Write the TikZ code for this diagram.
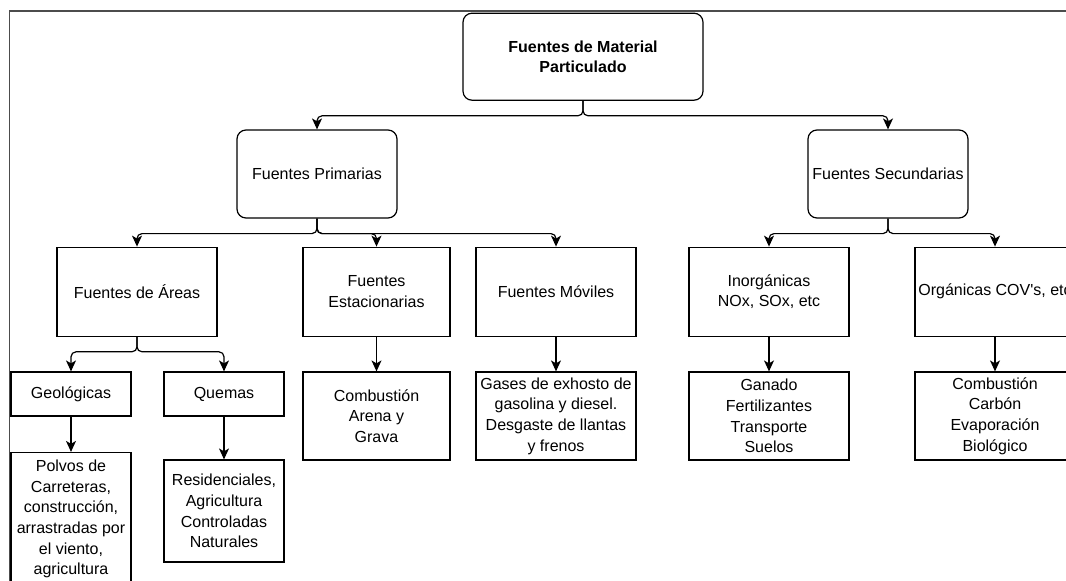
\documentclass[tikz,border=0pt]{standalone}
\usepackage{fontspec}
\setmainfont{Liberation Sans}
\usetikzlibrary{arrows.meta}

\tikzset{
  letra/.style={font=\fontsize{16pt}{20.7pt}\selectfont},
  caja/.style={draw, line width=1.2pt, inner sep=0pt, align=center, letra},
  redonda/.style={caja, rounded corners=9pt},
  punta/.style={-{Stealth[length=11pt,width=10pt,inset=3pt]}},
  codo/.style={draw, line width=1.2pt, rounded corners=5pt, punta,
    to path={(\tikztostart.south) -- ++(0,15) -| (\tikztotarget.north)}},
  recta/.style={draw, line width=1.2pt, punta,
    to path={(\tikztostart.south) -- (\tikztotarget.north)}}
}

\begin{document}
\begin{tikzpicture}[x=1pt, y=-1pt]

        \useasboundingbox (0,0) rectangle (1066,581);
        \clip (0,0) rectangle (1066,581);
        \draw[line width=1.5pt, black!70] (9.5,581) -- (9.5,11) -- (1066,11);

        \begin{scope}[every node/.style={redonda, minimum width=160pt, minimum height=88pt}]
          \node[minimum width=240pt, minimum height=87pt,
                font=\fontsize{16pt}{20.7pt}\selectfont\bfseries] (raiz) at (583,56.7) {Fuentes de Material\\Particulado};
          \node (prim) at (317,174) {Fuentes Primarias};
          \node (sec)  at (888,174) {Fuentes Secundarias};
        \end{scope}

        \begin{scope}[every node/.style={caja, minimum width=160pt, minimum height=89pt}]
          \node (areas) at (137,291.7)   {Fuentes de Áreas};
          \node[minimum width=147pt] (est) at (376.5,291.7) {Fuentes\\Estacionarias};
          \node (mov)   at (556,291.7)   {Fuentes Móviles};
          \node (inorg) at (769,291.7)   {Inorgánicas\\NOx, SOx, etc};
          \node (org)   at (995,291.7)   {Orgánicas COV\textquotesingle s, etc};
        \end{scope}

        \begin{scope}[every node/.style={caja, minimum width=120pt, minimum height=44pt}]
          \node (geol) at (71,394)  {Geológicas};
          \node (quem) at (224,394) {Quemas};
          \node[minimum height=133pt] (polvos) at (71,519) {Polvos de\\Carreteras,\\construcción,\\arrastradas por\\el viento,\\agricultura};
          \node[minimum height=102pt] (resid)  at (224,511) {Residenciales,\\Agricultura\\Controladas\\Naturales};
        \end{scope}

        \begin{scope}[every node/.style={caja, minimum width=160pt, minimum height=88pt}]
          \node[minimum width=147pt] (comb) at (376.5,416) {Combustión\\Arena y\\Grava};
          \node (gases)  at (556,416) {Gases de exhosto de\\gasolina y diesel.\\Desgaste de llantas\\y frenos};
          \node (ganado) at (769,416) {Ganado\\Fertilizantes\\Transporte\\Suelos};
          \node (carbon) at (995,416) {Combustión\\Carbón\\Evaporación\\Biológico};
        \end{scope}

        \path (raiz)  edge[codo] (prim);
        \path (raiz)  edge[codo] (sec);
        \path (prim)  edge[codo] (areas);
        \path (prim)  edge[codo] (est);
        \path (prim)  edge[codo] (mov);
        \path (sec)   edge[codo] (inorg);
        \path (sec)   edge[codo] (org);
        \path (areas) edge[codo] (geol);
        \path (areas) edge[codo] (quem);
        \path (geol)  edge[recta] (polvos);
        \path (quem)  edge[recta] (resid);
        \path (est)   edge[recta] (comb);
        \path (mov)   edge[recta] (gases);
        \path (inorg) edge[recta] (ganado);
        \path (org)   edge[recta] (carbon);

      \end{tikzpicture}
\end{document}
